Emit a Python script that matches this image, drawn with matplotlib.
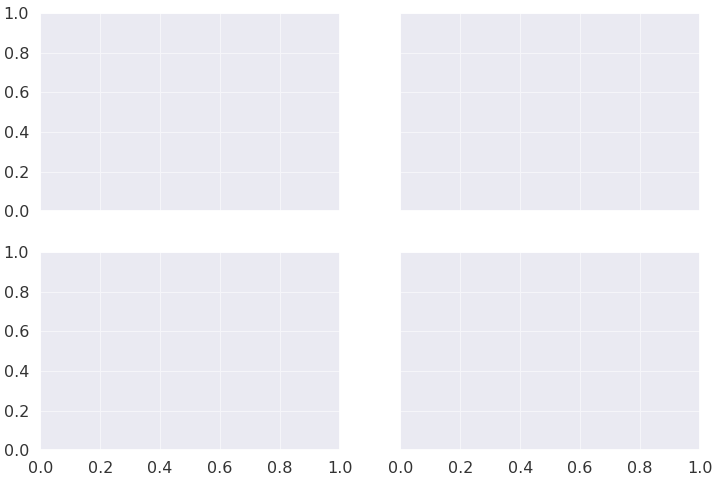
import matplotlib
matplotlib.use('Agg')
import matplotlib.pyplot as plt
import seaborn as sns

# empty 2x2 grid, shared axes, default 0..1 limits
xticks = [0.0, 0.2, 0.4, 0.6, 0.8, 1.0]
yticks = [0.0, 0.2, 0.4, 0.6, 0.8, 1.0]
tick_labels = ['0.0', '0.2', '0.4', '0.6', '0.8', '1.0']

sns.set_theme(style='darkgrid')
plt.rcParams['font.family'] = ['DejaVu Sans']
plt.rcParams['grid.linewidth'] = 0.8
plt.rcParams['grid.color'] = '#f5f5f9'

fig, axes = plt.subplots(2, 2, sharex=True, sharey=True, figsize=(7.2, 4.8), dpi=100)
fig.subplots_adjust(left=0.056, right=0.972, top=0.973, bottom=0.062,
                    wspace=0.203, hspace=0.205)

for ax in axes.flat:
    ax.set_xlim(0, 1)
    ax.set_ylim(0, 1)
    ax.set_xticks(xticks)
    ax.set_yticks(yticks)
    ax.tick_params(labelsize=11.5, pad=2, colors='#333333')

for ax in axes[:, 0]:
    ax.set_yticklabels(tick_labels)
for ax in axes[1, :]:
    ax.set_xticklabels(tick_labels)

fig.savefig('out.png', dpi=100)
